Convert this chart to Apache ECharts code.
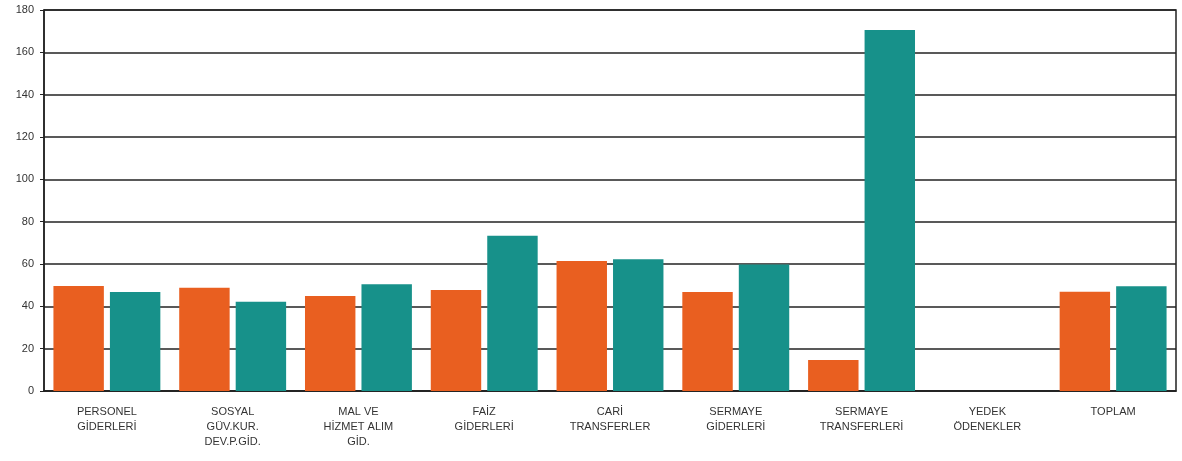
<!DOCTYPE html>
<html>
<head>
<meta charset="utf-8">
<script src="https://cdn.jsdelivr.net/npm/echarts@6/dist/echarts.min.js"></script>
<style>
  html, body { margin: 0; padding: 0; background: #fff; }
  #chart { width: 1182px; height: 461px; }
</style>
</head>
<body>
<div id="chart"></div>
<script>
var categories = ['PERSONEL\nGİDERLERİ', 'SOSYAL\nGÜV.KUR.\nDEV.P.GİD.', 'MAL VE\nHİZMET ALIM\nGİD.', 'FAİZ\nGİDERLERİ',
  'CARİ\nTRANSFERLER', 'SERMAYE\nGİDERLERİ', 'SERMAYE\nTRANSFERLERİ', 'YEDEK\nÖDENEKLER', 'TOPLAM'];
var seriesA = [49.6, 48.8, 44.9, 47.7, 61.4, 46.8, 14.6, null, 46.9];
var seriesB = [46.8, 42.2, 50.4, 73.4, 62.2, 59.8, 170.5, null, 49.5];
var yTicks = { min: 0, max: 180, interval: 20 };

var chart = echarts.init(document.getElementById('chart'));
chart.setOption({
  animation: false,
  textStyle: { fontFamily: 'Liberation Sans, Arial, sans-serif' },
  grid: {
    left: 44, right: 6, top: 10, bottom: 70,
    show: true, borderColor: '#222', borderWidth: 1.5
  },
  xAxis: {
    type: 'category',
    data: categories,
    axisLine: { lineStyle: { color: '#222', width: 1.5 } },
    axisTick: { show: false },
    axisLabel: {
      interval: 0,
      color: '#333',
      fontSize: 11,
      lineHeight: 15,
      margin: 13
    }
  },
  yAxis: {
    type: 'value',
    min: yTicks.min,
    max: yTicks.max,
    interval: yTicks.interval,
    axisLine: { show: true, lineStyle: { color: '#222', width: 1.5 } },
    axisTick: { show: true, length: 4, lineStyle: { color: '#222' } },
    axisLabel: { color: '#333', fontSize: 11, margin: 10 },
    splitLine: { lineStyle: { color: '#222', width: 1.5 } }
  },
  series: [{
    name: 'A',
    type: 'bar',
    data: seriesA,
    barGap: '12%',
    barCategoryGap: '15%',
    itemStyle: { color: '#E95F20' }
  }, {
    name: 'B',
    type: 'bar',
    data: seriesB,
    itemStyle: { color: '#17918A' }
  }]
});
</script>
</body>
</html>
